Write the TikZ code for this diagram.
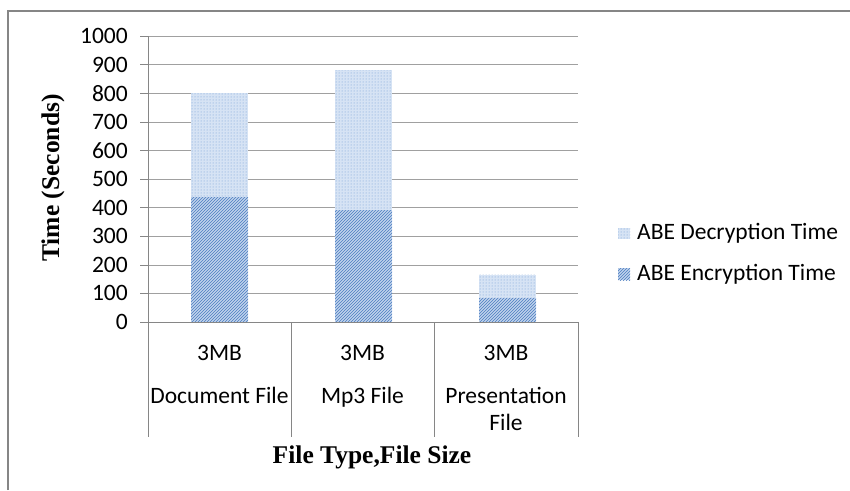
\documentclass[tikz,border=0pt]{standalone}
\usepackage{fontspec}
\setmainfont{Carlito}
\newfontfamily\titlefont{Liberation Serif}
\usetikzlibrary{patterns}

\definecolor{gridgray}{HTML}{A0A0A0}
\definecolor{axisgray}{HTML}{868686}
\definecolor{encblue}{HTML}{4A7CC0}
\definecolor{encback}{HTML}{C0D3EC}
\definecolor{decblue}{HTML}{6F9AD2}
\definecolor{decback}{HTML}{D6E3F4}

\begin{document}
\begin{tikzpicture}[x=1pt,y=-1pt,
    enc/.style={fill=encback,postaction={pattern=north east lines,pattern color=encblue}},
    dec/.style={fill=decback,postaction={pattern=dots,pattern color=decblue}},
    lbl/.style={font=\fontsize{23.5}{26}\selectfont,inner sep=0pt},
    ttl/.style={font=\titlefont\bfseries\fontsize{25.5}{28}\selectfont,inner sep=0pt}]
    \useasboundingbox (0,0) rectangle (850,490);
    \draw[axisgray,line width=2pt] (8,490) -- (8,11) -- (850,11);
    % value axis: 0 at y=322, 100 per 28.6
    \begin{scope}[yshift=-322pt,y=0.286pt]
    \foreach \v in {100,200,...,1000}
        \draw[gridgray] (148,\v) -- (578,\v);
    \foreach \v in {0,100,...,1000} {
        \draw[axisgray] (140,\v) -- (148,\v);
        \node[lbl,anchor=east] (y\v) at (128,\v) {\v};
    }
    \foreach \x/\e/\t in {191/437/800, 335/390/880, 479/84/165} {
        \fill[enc] (\x,0) rectangle (\x+57,\e);
        \fill[dec] (\x,\e) rectangle (\x+57,\t);
    }
    \draw[axisgray] (148,1000) -- (148,0) -- (578,0);
    \end{scope}
    \foreach \x in {148,291,434,578}
        \draw[axisgray] (\x,322) -- (\x,437);
    % categories
    \node[lbl,anchor=base] (docsize) at (219.5,360) {3MB};
    \node[lbl,anchor=base] (doc) at (219.5,403) {Document File};
    \node[lbl,anchor=base] (mpsize) at (362.5,360) {3MB};
    \node[lbl,anchor=base] (mp) at (362.5,403) {Mp3 File};
    \node[lbl,anchor=base] (presize) at (506,360) {3MB};
    \node[lbl,anchor=base] (pre) at (506,403) {Presentation};
    \node[lbl,anchor=base] (prefile) at (506,430) {File};
    % titles
    \node[ttl,rotate=90] (ytitle) at (53,178) {Time (Seconds)};
    \node[ttl,anchor=base] (xtitle) at (372,463) {File Type,File Size};
    % legend
    \fill[dec] (618,228) rectangle (630,239);
    \node[lbl,anchor=base west] (legdec) at (637,239) {ABE Decryption Time};
    \fill[enc] (618,268) rectangle (630,280);
    \node[lbl,anchor=base west] (legenc) at (637,280) {ABE Encryption Time};
\end{tikzpicture}
\end{document}
